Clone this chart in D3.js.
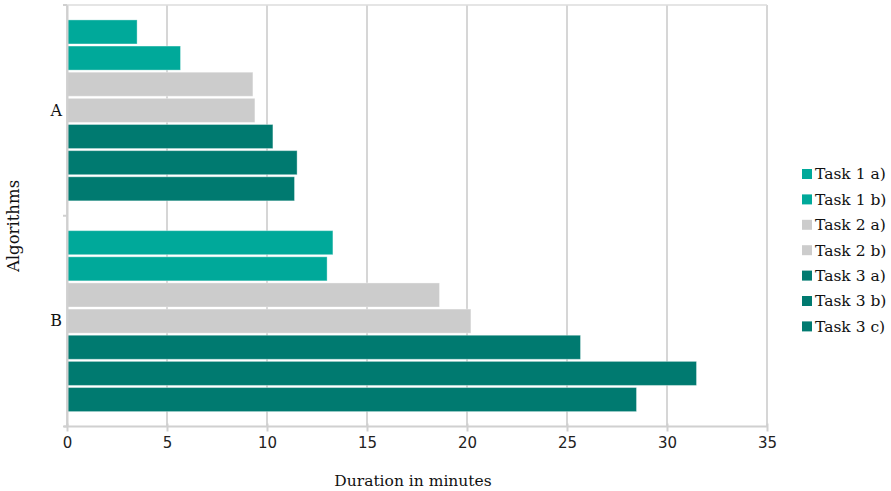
<!DOCTYPE html>
<html>
<head>
<meta charset="utf-8">
<script src="https://cdn.jsdelivr.net/npm/d3@7"></script>
<style>
  body { margin: 0; background: #fff; }
  svg { display: block; }
</style>
</head>
<body>
<svg id="chart" width="891" height="491"></svg>
<script>
const algorithms = ["A", "B"];
const tasks = ["Task 1 a)", "Task 1 b)", "Task 2 a)", "Task 2 b)", "Task 3 a)", "Task 3 b)", "Task 3 c)"];
const valuesA = [3.48, 5.65, 9.27, 9.37, 10.27, 11.48, 11.35];
const valuesB = [13.27, 12.98, 18.6, 20.17, 25.65, 31.45, 28.45];
const taskColors = ["#00a99a", "#00a99a", "#cccccc", "#cccccc", "#007a70", "#007a70", "#007a70"];
const xTicks = [0, 5, 10, 15, 20, 25, 30, 35];

const data = [
  { alg: "A", values: valuesA },
  { alg: "B", values: valuesB }
];

const svg = d3.select("#chart");
const margin = { left: 67, right: 124, top: 5, bottom: 65 };
const W = 891, H = 491;
const x0 = margin.left, x1 = W - margin.right;
const yTop = margin.top, yBot = H - margin.bottom + 0.5;

const x = d3.scaleLinear().domain([0, 35]).range([x0, x1]);
const y = d3.scaleBand().domain(algorithms).range([yTop, yBot]).paddingInner(0).paddingOuter(0);
const yInner = d3.scaleBand().domain(tasks).range([0, y.bandwidth()]).paddingInner(0.08).paddingOuter(0.57);
const color = d3.scaleOrdinal().domain(tasks).range(taskColors);

const serif = "'DejaVu Serif', serif";
const sans = "'DejaVu Sans', sans-serif";

// grid
svg.append("g").selectAll("line").data(xTicks).join("line")
  .attr("x1", d => x(d)).attr("x2", d => x(d))
  .attr("y1", yTop).attr("y2", yBot)
  .attr("stroke", "#d6d6d6").attr("stroke-width", 2);
// top border
svg.append("line").attr("x1", x0).attr("x2", x1).attr("y1", yTop).attr("y2", yTop)
  .attr("stroke", "#dcdcdc").attr("stroke-width", 1.5);

// bars
const groups = svg.append("g").selectAll("g").data(data).join("g")
  .attr("transform", d => `translate(0,${y(d.alg)})`);
groups.selectAll("rect").data(d => d.values.map((v, i) => ({ task: tasks[i], v })))
  .join("rect")
  .attr("x", x(0) + 0.5)
  .attr("y", d => yInner(d.task))
  .attr("width", d => x(d.v) - x(0))
  .attr("height", yInner.bandwidth())
  .attr("fill", d => color(d.task))
  .attr("stroke", "rgba(255,255,255,0.35)")
  .attr("stroke-width", 1);

// x axis
const xAxis = svg.append("g").attr("transform", `translate(0,${yBot})`)
  .call(d3.axisBottom(x).tickValues(xTicks).tickSize(5).tickPadding(6));
xAxis.select(".domain").attr("stroke", "#d0d0d0").attr("stroke-width", 2).attr("d", `M${x0 - 3},0H${x1}`);
xAxis.selectAll(".tick line").attr("stroke", "#d0d0d0").attr("stroke-width", 2).attr("y1", -3);
xAxis.selectAll(".tick text").attr("font-family", sans).attr("font-size", 15).attr("fill", "#222");

// y axis
const yAxis = svg.append("g").attr("transform", `translate(${x0},0)`)
  .call(d3.axisLeft(y).tickSize(0).tickPadding(5));
yAxis.select(".domain").attr("stroke", "#d0d0d0").attr("stroke-width", 2);
yAxis.selectAll(".tick text").attr("font-family", serif).attr("font-size", 16).attr("fill", "#111");
// band boundary ticks
svg.append("g").selectAll("line").data([yTop, y("B"), yBot]).join("line")
  .attr("x1", x0 - 4).attr("x2", x0).attr("y1", d => d).attr("y2", d => d)
  .attr("stroke", "#d0d0d0").attr("stroke-width", 2);

// titles
svg.append("text").attr("x", 413).attr("y", 486)
  .attr("text-anchor", "middle").attr("font-family", serif).attr("font-size", 15.5).attr("fill", "#111")
  .text("Duration in minutes");
svg.append("text").attr("transform", `translate(19,226) rotate(-90)`)
  .attr("text-anchor", "middle").attr("font-family", serif).attr("font-size", 16.5).attr("fill", "#111")
  .text("Algorithms");

// legend
const legend = svg.append("g").attr("transform", "translate(802,169)");
const li = legend.selectAll("g").data(tasks).join("g")
  .attr("transform", (d, i) => `translate(0,${i * 25.4})`);
li.append("rect").attr("width", 10).attr("height", 10).attr("fill", d => color(d));
li.append("text").attr("x", 13).attr("y", 5).attr("dy", "0.35em")
  .attr("font-family", serif).attr("font-size", 15.5).attr("fill", "#111").text(d => d);
</script>
</body>
</html>
